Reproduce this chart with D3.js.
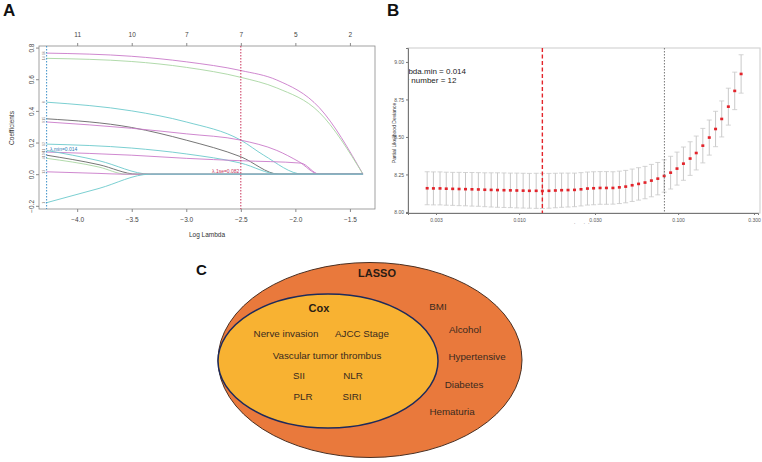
<!DOCTYPE html>
<html>
<head>
<meta charset="utf-8">
<script src="https://cdn.jsdelivr.net/npm/d3@7"></script>
<style>
  body { margin: 0; background: #fff; }
  svg { font-family: "Liberation Sans", Arial, sans-serif; }
</style>
</head>
<body>
<svg width="762" height="462"></svg>
<script>
// ---------- panel A data: lasso coefficient paths (log lambda, coefficient) ----------
var pathColors = ["#c97ac9", "#a8d6a2", "#6ccacc", "#666666", "#c97ac9", "#6ccacc",
                  "#c97ac9", "#6ccacc", "#666666", "#a8d6a2", "#c97ac9", "#6ccacc"];
var pathLabels = ["16", "14", "8", "15", "9", "12", "6", "11", "10", "4", "13", "1"];
var coefPaths = [
  [[-4.28, 0.765], [-3.5, 0.745], [-3.0, 0.71], [-2.5, 0.655], [-2.17, 0.595], [-1.78, 0.42], [-1.38, 0]],
  [[-4.28, 0.732], [-3.5, 0.712], [-3.0, 0.675], [-2.5, 0.612], [-2.17, 0.545], [-1.78, 0.39], [-1.38, 0]],
  [[-4.28, 0.455], [-3.5, 0.40], [-3.0, 0.33], [-2.5, 0.215], [-2.29, 0.12], [-1.93, 0], [-1.38, 0]],
  [[-4.28, 0.35], [-3.5, 0.295], [-3.0, 0.215], [-2.5, 0.11], [-2.15, 0], [-1.38, 0]],
  [[-4.28, 0.33], [-3.5, 0.29], [-3.0, 0.255], [-2.5, 0.215], [-2.17, 0.15], [-1.97, 0.08], [-1.78, 0], [-1.38, 0]],
  [[-4.28, 0.19], [-3.5, 0.165], [-3.0, 0.128], [-2.5, 0.07], [-2.15, 0], [-1.38, 0]],
  [[-4.28, 0.14], [-3.5, 0.12], [-3.0, 0.10], [-2.5, 0.085], [-1.95, 0.07], [-1.78, 0], [-1.38, 0]],
  [[-4.28, 0.15], [-3.8, 0.085], [-3.33, 0], [-1.38, 0]],
  [[-4.28, 0.12], [-3.8, 0.06], [-3.45, 0], [-1.38, 0]],
  [[-4.28, 0.10], [-3.8, 0.045], [-3.55, 0], [-1.38, 0]],
  [[-4.28, 0.015], [-3.8, 0.005], [-3.58, 0], [-1.38, 0]],
  [[-4.28, -0.18], [-3.8, -0.09], [-3.33, 0], [-1.38, 0]]
];
var aTicksX = [-4.0, -3.5, -3.0, -2.5, -2.0, -1.5];
var aTicksY = [-0.2, 0.0, 0.2, 0.4, 0.6, 0.8];
var aTopLabels = ["11", "10", "7", "7", "5", "2"];
var aLambdaMin = -4.28, aLambda1se = -2.5;

// ---------- panel B data: cross-validated deviance ----------
var lambdas = [0.00264, 0.00289, 0.00318, 0.00348, 0.00382, 0.00419, 0.00460, 0.00505, 0.00554, 0.00608,
               0.00667, 0.00731, 0.00803, 0.00881, 0.00967, 0.0106, 0.0116, 0.0128, 0.0140, 0.0154,
               0.0169, 0.0185, 0.0203, 0.0223, 0.0245, 0.0269, 0.0294, 0.0323, 0.0354, 0.0389,
               0.0427, 0.0468, 0.0514, 0.0564, 0.0619, 0.0679, 0.0745, 0.0817, 0.0897, 0.0984,
               0.108, 0.119, 0.130, 0.143, 0.157, 0.172, 0.188, 0.207, 0.227, 0.249];
var deviance = [8.158, 8.157, 8.157, 8.155, 8.154, 8.153, 8.152, 8.151, 8.150, 8.148,
                8.147, 8.146, 8.145, 8.144, 8.143, 8.142, 8.141, 8.141, 8.140, 8.141,
                8.143, 8.145, 8.146, 8.147, 8.151, 8.156, 8.158, 8.160, 8.160, 8.160,
                8.164, 8.169, 8.178, 8.187, 8.196, 8.209, 8.222, 8.240, 8.262, 8.289,
                8.322, 8.356, 8.393, 8.442, 8.496, 8.553, 8.620, 8.702, 8.807, 8.920];
var devSE = [0.110, 0.110, 0.110, 0.110, 0.110, 0.111, 0.111, 0.112, 0.112, 0.113,
             0.114, 0.115, 0.115, 0.115, 0.116, 0.116, 0.116, 0.117, 0.117, 0.116,
             0.115, 0.114, 0.113, 0.112, 0.111, 0.110, 0.110, 0.109, 0.109, 0.108,
             0.108, 0.108, 0.108, 0.108, 0.108, 0.108, 0.108, 0.108, 0.109, 0.110,
             0.111, 0.112, 0.113, 0.115, 0.117, 0.118, 0.120, 0.123, 0.125, 0.128];
var bTicksX = [0.003, 0.010, 0.030, 0.100, 0.300];
var bTicksY = [8.00, 8.25, 8.50, 8.75, 9.00];
var bLambdaMin = 0.014, bLambda1se = 0.082;

// ---------- panel C data: variable sets ----------
var coxVars = ["Nerve invasion", "AJCC Stage", "Vascular tumor thrombus", "SII", "NLR", "PLR", "SIRI"];
var lassoOnly = ["BMI", "Alcohol", "Hypertensive", "Diabetes", "Hematuria"];

var svg = d3.select("svg");

// panel letters
svg.append("text").attr("x", 3).attr("y", 16).text("A")
  .style("font-size", "17px").style("font-weight", "bold").attr("fill", "#111");
svg.append("text").attr("x", 387).attr("y", 16).text("B")
  .style("font-size", "17px").style("font-weight", "bold").attr("fill", "#111");
svg.append("text").attr("x", 196).attr("y", 275).text("C")
  .style("font-size", "15px").style("font-weight", "bold").attr("fill", "#111");

// ================= panel A =================
var xA = d3.scaleLinear().domain([-4.35, -1.27]).range([39, 375]);
var yA = d3.scaleLinear().domain([-0.22, 0.81]).range([209, 46]);
var gA = svg.append("g");

gA.append("rect").attr("x", 39).attr("y", 46).attr("width", 336).attr("height", 163)
  .attr("fill", "none").attr("stroke", "#8a8a8a").attr("stroke-width", 0.8);

var lineA = d3.line().x(function(d) { return xA(d[0]); }).y(function(d) { return yA(d[1]); })
  .curve(d3.curveMonotoneX);

gA.selectAll("path.coef")
    .data(coefPaths)
  .enter().append("path")
    .attr("class", "coef")
    .attr("d", lineA)
    .attr("fill", "none")
    .attr("stroke", function(d, i) { return pathColors[i]; })
    .attr("stroke-width", 0.9);

// tiny variable labels at the left end of each path
gA.selectAll("text.vlab")
    .data(coefPaths)
  .enter().append("text")
    .attr("class", "vlab")
    .attr("transform", function(d) { return "translate(45," + yA(d[0][1]) + ") rotate(-90)"; })
    .attr("text-anchor", "middle")
    .style("font-size", "3.5px")
    .attr("fill", "#777")
    .text(function(d, i) { return pathLabels[i]; });

// lambda lines
gA.append("line").attr("x1", xA(aLambdaMin)).attr("x2", xA(aLambdaMin)).attr("y1", 46).attr("y2", 209)
  .attr("stroke", "#3a8fc7").attr("stroke-width", 1).attr("stroke-dasharray", "1.5,1.5");
gA.append("line").attr("x1", xA(aLambda1se)).attr("x2", xA(aLambda1se)).attr("y1", 46).attr("y2", 209)
  .attr("stroke", "#c8325a").attr("stroke-width", 1).attr("stroke-dasharray", "1.5,1.5");
gA.append("text").attr("x", 50).attr("y", yA(0.145)).text("λ.min=0.014")
  .style("font-size", "5px").attr("fill", "#2b7bb5");
gA.append("text").attr("x", 212).attr("y", yA(0.008)).text("λ.1se=0.082")
  .style("font-size", "5px").attr("fill", "#c8325a");

// axes
var axBot = gA.append("g").attr("transform", "translate(0,209)")
  .call(d3.axisBottom(xA).tickValues(aTicksX).tickFormat(d3.format(".1f")).tickSize(3).tickPadding(5));
var axTop = gA.append("g").attr("transform", "translate(0,46)")
  .call(d3.axisTop(xA).tickValues(aTicksX).tickFormat(function(d, i) { return aTopLabels[i]; }).tickSize(3).tickPadding(6));
var axLeft = gA.append("g").attr("transform", "translate(39,0)")
  .call(d3.axisLeft(yA).tickValues(aTicksY).tickFormat(d3.format(".1f")).tickSize(3));
axLeft.selectAll(".tick text")
  .attr("x", 0).attr("dy", 0)
  .attr("transform", "translate(-5,0) rotate(-90)")
  .attr("text-anchor", "middle");
[axBot, axTop, axLeft].forEach(function(a) {
  a.select(".domain").remove();
  a.selectAll(".tick line").attr("stroke", "#8a8a8a");
  a.selectAll(".tick text").attr("fill", "#444").style("font-size", "6.5px")
    .style("font-family", "Liberation Sans, Arial, sans-serif");
});
gA.append("text").attr("x", 207).attr("y", 237).attr("text-anchor", "middle")
  .text("Log Lambda").style("font-size", "6.5px").attr("fill", "#333");
gA.append("text").attr("transform", "translate(14,128) rotate(-90)").attr("text-anchor", "middle")
  .text("Coefficients").style("font-size", "6.5px").attr("fill", "#333");

// ================= panel B =================
var xB = d3.scaleLog().domain([0.002, 0.318]).range([408, 758]);
var yB = d3.scaleLinear().domain([7.993, 9.093]).range([213, 48]);
var gB = svg.append("g");

svg.append("defs").append("clipPath").attr("id", "clipB")
  .append("rect").attr("x", 408).attr("y", 48).attr("width", 352).attr("height", 165);

gB.append("rect").attr("x", 408).attr("y", 48).attr("width", 352).attr("height", 165)
  .attr("fill", "none").attr("stroke", "#d4d4d4").attr("stroke-width", 1.2);

var bars = gB.selectAll("g.cv")
    .data(lambdas)
  .enter().append("g").attr("class", "cv");
bars.append("line")
  .attr("x1", function(d) { return xB(d); }).attr("x2", function(d) { return xB(d); })
  .attr("y1", function(d, i) { return yB(deviance[i] + devSE[i]); })
  .attr("y2", function(d, i) { return yB(deviance[i] - devSE[i]); })
  .attr("stroke", "#c9c9c9").attr("stroke-width", 1);
bars.append("line")
  .attr("x1", function(d) { return xB(d) - 2.5; }).attr("x2", function(d) { return xB(d) + 2.5; })
  .attr("y1", function(d, i) { return yB(deviance[i] + devSE[i]); })
  .attr("y2", function(d, i) { return yB(deviance[i] + devSE[i]); })
  .attr("stroke", "#c9c9c9").attr("stroke-width", 0.8);
bars.append("line")
  .attr("x1", function(d) { return xB(d) - 2.5; }).attr("x2", function(d) { return xB(d) + 2.5; })
  .attr("y1", function(d, i) { return yB(deviance[i] - devSE[i]); })
  .attr("y2", function(d, i) { return yB(deviance[i] - devSE[i]); })
  .attr("stroke", "#c9c9c9").attr("stroke-width", 0.8);

gB.append("line").attr("x1", xB(bLambdaMin)).attr("x2", xB(bLambdaMin)).attr("y1", 48).attr("y2", 213)
  .attr("stroke", "#e3242b").attr("stroke-width", 1.4).attr("stroke-dasharray", "4,2.5");
gB.append("line").attr("x1", xB(bLambda1se)).attr("x2", xB(bLambda1se)).attr("y1", 48).attr("y2", 213)
  .attr("stroke", "#777").attr("stroke-width", 1).attr("stroke-dasharray", "1.5,1.5");

bars.append("rect")
  .attr("x", function(d) { return xB(d) - 1.5; })
  .attr("y", function(d, i) { return yB(deviance[i]) - 1.3; })
  .attr("width", 3).attr("height", 2.6)
  .attr("fill", "#e3242b");

var noteB = gB.append("g").attr("clip-path", "url(#clipB)");
noteB.append("text").attr("x", 395.5).attr("y", 73.5).text("lambda.min = 0.014")
  .style("font-size", "8px").attr("fill", "#222");
noteB.append("text").attr("x", 398).attr("y", 82.5).text("var number = 12")
  .style("font-size", "8px").attr("fill", "#222");

var bBot = gB.append("g").attr("transform", "translate(0,213)")
  .call(d3.axisBottom(xB).tickValues(bTicksX).tickFormat(d3.format(".3f")).tickSize(2).tickPadding(3));
var bLeft = gB.append("g").attr("transform", "translate(408,0)")
  .call(d3.axisLeft(yB).tickValues(bTicksY).tickFormat(d3.format(".2f")).tickSize(2).tickPadding(2));
[bBot, bLeft].forEach(function(a) {
  a.select(".domain").attr("stroke", "#777").attr("stroke-width", 1);
  a.selectAll(".tick line").attr("stroke", "#777");
  a.selectAll(".tick text").attr("fill", "#555").style("font-size", "5px")
    .style("font-family", "Liberation Sans, Arial, sans-serif");
});
gB.append("text").attr("transform", "translate(396,133) rotate(-90)").attr("text-anchor", "middle")
  .text("Partial Likelihood Deviance").style("font-size", "5px").attr("fill", "#333");
gB.append("text").attr("x", 583).attr("y", 227).attr("text-anchor", "middle")
  .text("Lambda").style("font-size", "5px").attr("fill", "#333");
gB.append("rect").attr("x", 560).attr("y", 223.5).attr("width", 50).attr("height", 10).attr("fill", "#fff");

// ================= panel C =================
var gC = svg.append("g");
gC.append("ellipse").attr("cx", 370).attr("cy", 360).attr("rx", 152).attr("ry", 97.5)
  .attr("fill", "#e9793c").attr("stroke", "#4a3023").attr("stroke-width", 1);
gC.append("ellipse").attr("cx", 328).attr("cy", 361).attr("rx", 110).attr("ry", 67)
  .attr("fill", "#f8b232").attr("stroke", "#1d2a5c").attr("stroke-width", 1.5);

gC.append("text").attr("x", 377).attr("y", 277).attr("text-anchor", "middle").text("LASSO")
  .style("font-size", "11px").style("font-weight", "bold").attr("fill", "#2a1c14");
gC.append("text").attr("x", 319).attr("y", 312).attr("text-anchor", "middle").text("Cox")
  .style("font-size", "11px").style("font-weight", "bold").attr("fill", "#2a1c14");

var coxPos = [[286, 333], [362, 333], [327, 355], [299, 375], [353, 375], [303, 396], [352, 396]];
gC.selectAll("text.cox")
    .data(coxVars)
  .enter().append("text")
    .attr("class", "cox")
    .attr("x", function(d, i) { return coxPos[i][0]; })
    .attr("y", function(d, i) { return coxPos[i][1] + 3.5; })
    .attr("text-anchor", "middle")
    .style("font-size", "9.8px")
    .attr("fill", "#3a2a1e")
    .text(function(d) { return d; });

var lassoPos = [[438, 306], [465, 329], [477, 356], [464, 384], [452, 411]];
gC.selectAll("text.lasso")
    .data(lassoOnly)
  .enter().append("text")
    .attr("class", "lasso")
    .attr("x", function(d, i) { return lassoPos[i][0]; })
    .attr("y", function(d, i) { return lassoPos[i][1] + 3.5; })
    .attr("text-anchor", "middle")
    .style("font-size", "9.8px")
    .attr("fill", "#3a2a1e")
    .text(function(d) { return d; });
</script>
</body>
</html>
